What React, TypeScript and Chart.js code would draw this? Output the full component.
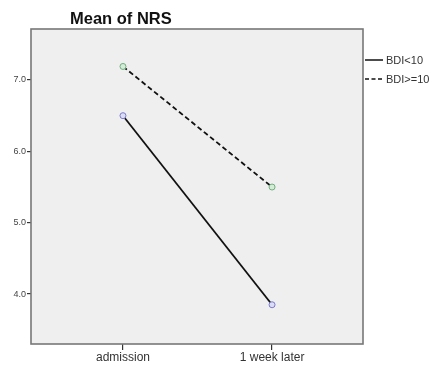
import React, { useEffect, useRef } from "react";
import { Chart, registerables } from "chart.js";
Chart.register(...registerables);

const categories = ["admission", "1 week later"];
const bdiLow = [6.5, 3.85];
const bdiHigh = [7.19, 5.5];
const yTicks = [4, 5, 6, 7];
const seriesNames = ["BDI<10", "BDI>=10"];
const titleText = "Mean of NRS";

const FONT = "Arial, 'Liberation Sans', sans-serif";

export default function App() {
  const ref = useRef<HTMLCanvasElement>(null);
  useEffect(() => {
    document.body.style.margin = "0";
    const decor = {
      id: "decor",
      beforeDraw(chart: any) {
        const { ctx, chartArea: a } = chart;
        ctx.save();
        ctx.fillStyle = "#efefef";
        ctx.fillRect(a.left, a.top, a.right - a.left, a.bottom - a.top);
        ctx.restore();
      },
      afterDraw(chart: any) {
        const { ctx, chartArea: a } = chart;
        ctx.save();
        ctx.strokeStyle = "#777";
        ctx.lineWidth = 1.6;
        ctx.strokeRect(a.left, a.top, a.right - a.left, a.bottom - a.top);
        // title
        ctx.fillStyle = "#111";
        ctx.font = `bold 16.5px ${FONT}`;
        ctx.textBaseline = "alphabetic";
        ctx.textAlign = "left";
        ctx.fillText(titleText, 70, 24);
        // legend
        ctx.font = `11px ${FONT}`;
        ctx.fillStyle = "#333";
        ctx.strokeStyle = "#111";
        ctx.lineWidth = 1.5;
        const lx = a.right + 2;
        const rows = [60, 79];
        rows.forEach((y, i) => {
          ctx.beginPath();
          ctx.setLineDash(i === 0 ? [] : [4, 2.5]);
          ctx.moveTo(lx, y);
          ctx.lineTo(lx + 18, y);
          ctx.stroke();
          ctx.setLineDash([]);
          ctx.textBaseline = "middle";
          ctx.fillText(seriesNames[i], lx + 21, y + 1);
        });
        ctx.restore();
      },
    };
    const chart = new Chart(ref.current!, {
      type: "line",
      data: {
        datasets: [
          {
            label: seriesNames[0],
            data: bdiLow.map((v, i) => ({ x: i, y: v })),
            borderColor: "#111",
            borderWidth: 1.8,
            pointRadius: 3,
            pointBorderWidth: 1,
            pointBorderColor: "#7b7bd0",
            pointBackgroundColor: "#dcdcf2",
          },
          {
            label: seriesNames[1],
            data: bdiHigh.map((v, i) => ({ x: i, y: v })),
            borderColor: "#111",
            borderWidth: 1.8,
            borderDash: [5, 3],
            pointRadius: 3,
            pointBorderWidth: 1,
            pointBorderColor: "#6fb07f",
            pointBackgroundColor: "#d6ecd9",
          },
        ],
      },
      options: {
        animation: false,
        responsive: false,
        events: [],
        layout: { padding: { top: 29, right: 74, left: 0, bottom: 0 } },
        plugins: { legend: { display: false }, title: { display: false }, tooltip: { enabled: false } },
        scales: {
          x: {
            type: "linear",
            min: -0.617,
            max: 1.61,
            afterBuildTicks: (s: any) => {
              s.ticks = categories.map((_, i) => ({ value: i }));
            },
            afterFit: (s: any) => {
              s.height = 25;
            },
            ticks: {
              callback: (v: any) => categories[v as number] ?? "",
              color: "#333",
              font: { family: FONT, size: 12 },
              padding: 0,
              maxRotation: 0,
              autoSkip: false,
            },
            grid: { drawOnChartArea: false, drawTicks: true, tickLength: 6, color: "#333", lineWidth: 1.2 },
            border: { display: false },
          },
          y: {
            type: "linear",
            min: 3.3,
            max: 7.715,
            afterBuildTicks: (s: any) => {
              s.ticks = yTicks.map((v) => ({ value: v }));
            },
            afterFit: (s: any) => {
              s.width = 31;
            },
            ticks: {
              callback: (v: any) => Number(v).toFixed(1),
              color: "#444",
              font: { family: FONT, size: 9 },
              padding: 1,
            },
            grid: { drawOnChartArea: false, drawTicks: true, tickLength: 4, color: "#333", lineWidth: 1.2 },
            border: { display: false },
          },
        },
      },
      plugins: [decor],
    } as any);
    return () => chart.destroy();
  }, []);
  return (
    <div style={{ position: "fixed", left: 0, top: 0, width: 437, height: 369, background: "#fff" }}>
      <canvas ref={ref} width={437} height={369} style={{ width: 437, height: 369 }} />
    </div>
  );
}
